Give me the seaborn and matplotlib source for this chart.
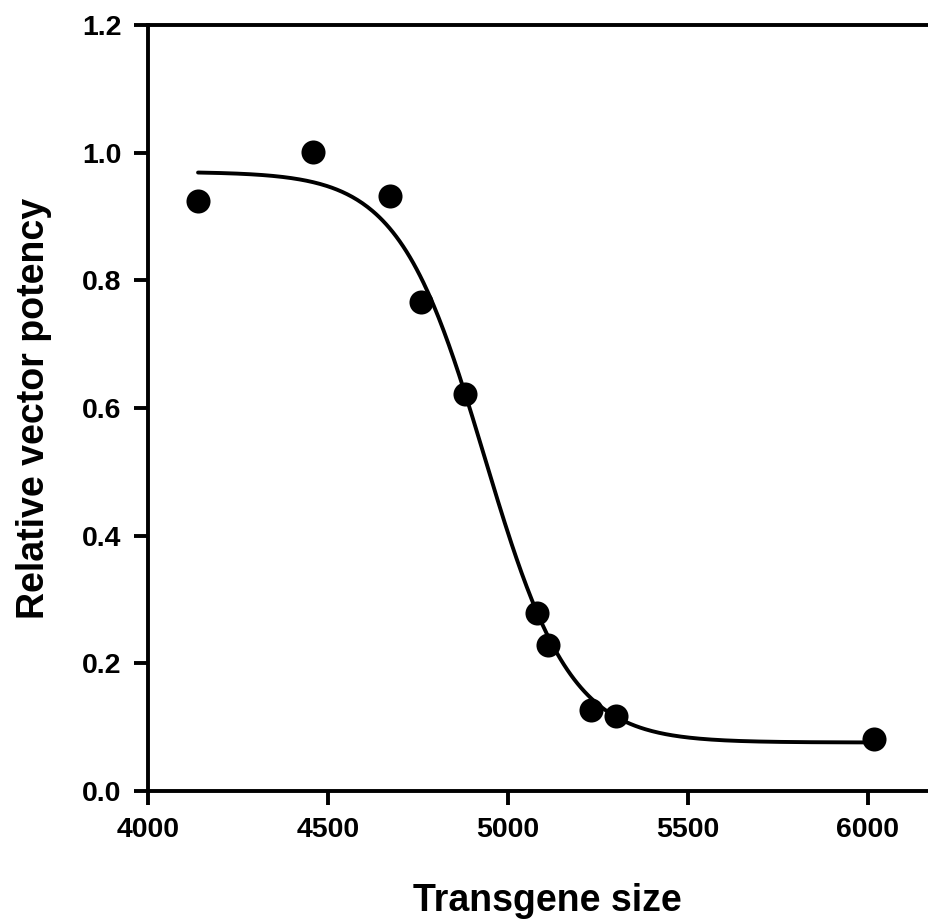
import numpy as np
import pandas as pd
import matplotlib
matplotlib.use("Agg")
import matplotlib.pyplot as plt
import seaborn as sns

# Measured potency versus transgene size
transgene_size = [4139, 4458, 4672, 4758, 4881, 5081, 5111, 5231, 5300, 6017]
relative_potency = [0.924, 1.001, 0.932, 0.766, 0.622, 0.279, 0.229, 0.127, 0.118, 0.081]

# Four-parameter logistic fit (top, bottom, midpoint, slope)
fit_top = 0.970
fit_bottom = 0.076
fit_mid = 4935
fit_slope = 119.4

x_ticks = [4000, 4500, 5000, 5500, 6000]
y_ticks = [0.0, 0.2, 0.4, 0.6, 0.8, 1.0, 1.2]

sns.set_style("ticks")
plt.rcParams["font.family"] = ["Liberation Sans", "DejaVu Sans"]
plt.rcParams["font.weight"] = "bold"
plt.rcParams["text.color"] = "black"
plt.rcParams["axes.labelcolor"] = "black"

fig = plt.figure(figsize=(9.29, 9.24), dpi=100)
ax = fig.add_axes([148 / 929, 1 - 791 / 924, 1 - 148 / 929, (791 - 25) / 924])

pts = pd.DataFrame({"size": transgene_size, "potency": relative_potency})
xs = np.linspace(min(transgene_size), max(transgene_size), 400)
fit = pd.DataFrame({
    "size": xs,
    "potency": fit_bottom + (fit_top - fit_bottom) / (1 + np.exp((xs - fit_mid) / fit_slope)),
})

sns.lineplot(data=fit, x="size", y="potency", color="black", linewidth=2.8, ax=ax)
sns.scatterplot(data=pts, x="size", y="potency", color="black", s=300,
                edgecolor="black", linewidth=0, zorder=3, ax=ax)

ax.set_xlim(4000, 4000 + (929 - 148) / 0.36)
ax.set_ylim(0, 1.2)
ax.set_xticks(x_ticks)
ax.set_yticks(y_ticks)
ax.set_xticklabels([str(t) for t in x_ticks], fontsize=20.5, fontweight="bold")
ax.set_yticklabels([f"{t:.1f}" for t in y_ticks], fontsize=20.5, fontweight="bold")

for side in ["left", "bottom", "top"]:
    ax.spines[side].set_linewidth(2.8)
    ax.spines[side].set_color("black")
ax.spines["right"].set_visible(False)
ax.tick_params(axis="x", direction="out", length=10, width=2.8, pad=9, colors="black")
ax.tick_params(axis="y", direction="out", length=10, width=2.8, pad=9, colors="black")

ax.set_xlabel("Transgene size", fontsize=27, fontweight="bold")
ax.xaxis.set_label_coords((547 - 148) / 781, (791 - 883) / 766)
ax.set_ylabel("Relative vector potency", fontsize=27, fontweight="bold", labelpad=22)

fig.savefig("out.png", dpi=100)
